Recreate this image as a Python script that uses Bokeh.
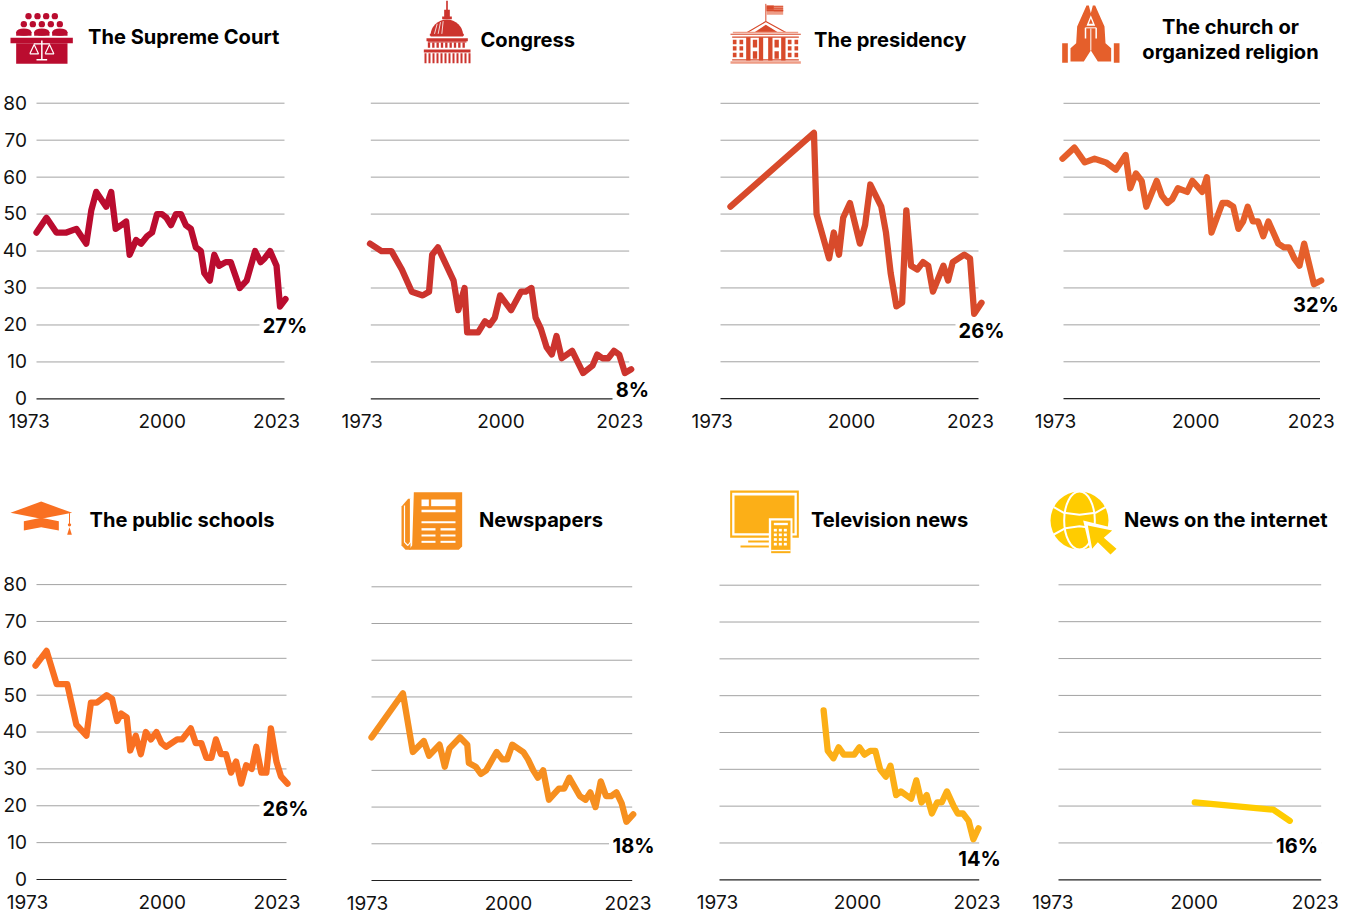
import numpy as np
from bokeh.plotting import figure
from bokeh.models import Range1d, LinearAxis, FixedTicker
from bokeh.embed import file_html
from bokeh.resources import INLINE
from bokeh.core.properties import value

# ---------- data ----------
Y_TICKS = [0, 10, 20, 30, 40, 50, 60, 70, 80]
YEAR_LABELS = ["1973", "2000", "2023"]

court_years = [1973, 1975, 1977, 1979, 1981, 1983, 1984, 1985, 1987, 1988, 1988.9, 1990, 1991, 1991.7, 1993, 1994, 1995.2, 1996.2, 1997.2, 1998.2, 1999.1, 2000, 2001, 2002, 2003, 2004, 2005, 2006, 2006.7, 2007.8, 2008.7, 2009.7, 2011, 2012, 2013.8, 2015.2, 2016.9, 2018, 2018.8, 2019.9, 2021.2, 2021.9, 2023]
court_vals = [45, 49, 45, 45, 46, 42, 51, 56, 52, 56, 46, 47, 48, 39, 43, 42, 44, 45, 50, 50, 49, 47, 50, 50, 47, 46, 41, 40, 34, 32, 39, 36, 37, 37, 30, 32, 40, 37, 38, 40, 36, 25, 27]

congress_years = [1973, 1975.2, 1977.1, 1979.1, 1981, 1983.1, 1984.3, 1984.9, 1986, 1989, 1989.9, 1991.1, 1991.6, 1993.7, 1995, 1995.9, 1996.9, 1997.9, 2000, 2001.9, 2002.8, 2003.9, 2004.7, 2005.7, 2006.8, 2007.8, 2008.7, 2009.7, 2011.7, 2013.8, 2015.6, 2016.5, 2017.5, 2018.6, 2019.7, 2020.7, 2021.8, 2023]
congress_vals = [42, 40, 40, 35, 29, 28, 29, 39, 41, 32, 24, 30, 18, 18, 21, 20, 22, 28, 24, 29, 29, 30, 22, 19, 14, 12, 17, 11, 13, 7, 9, 12, 11, 11, 13, 12, 7, 8]

presidency_years = [1974.9, 1990.9, 1991.4, 1993.8, 1994.7, 1995.7, 1996.5, 1997.8, 1999.7, 2000.7, 2001.7, 2003.8, 2004.7, 2005.6, 2006.7, 2007.8, 2008.6, 2009.5, 2010.7, 2011.8, 2012.8, 2013.7, 2015.7, 2016.6, 2017.5, 2019.7, 2020.8, 2021.6, 2023]
presidency_vals = [52, 72, 50, 38, 45, 39, 49, 53, 42, 47, 58, 52, 45, 34, 25, 26, 51, 36, 35, 37, 36, 29, 36, 32, 37, 39, 38, 23, 26]

church_years = [1973, 1975.3, 1977.3, 1979.2, 1981.4, 1983.3, 1985.2, 1986.1, 1987.2, 1988.3, 1989.2, 1991.2, 1992.2, 1993.3, 1994.2, 1995.3, 1997.1, 1998.1, 2000, 2000.9, 2001.8, 2003.9, 2004.9, 2006, 2007, 2007.9, 2008.8, 2009.8, 2010.8, 2011.8, 2012.8, 2014.7, 2015.8, 2016.8, 2017.8, 2018.8, 2019.7, 2021.6, 2023]
church_vals = [65, 68, 64, 65, 64, 62, 66, 57, 61, 59, 52, 59, 55, 53, 54, 57, 56, 59, 56, 60, 45, 53, 53, 52, 46, 48, 52, 48, 48, 44, 48, 42, 41, 41, 38, 36, 42, 31, 32]

schools_years = [1973, 1975.2, 1977.2, 1979.3, 1981.1, 1983.1, 1984, 1985.2, 1987.1, 1988.2, 1989.2, 1990, 1991.1, 1991.8, 1992.9, 1993.9, 1994.9, 1995.9, 1997, 1998, 1998.9, 2001.1, 2002.1, 2003.8, 2004.8, 2005.9, 2006.9, 2007.9, 2008.8, 2009.8, 2010.8, 2011.8, 2012.8, 2013.8, 2014.8, 2015.9, 2016.8, 2017.8, 2018.8, 2019.7, 2020.8, 2021.7, 2023]
schools_vals = [58, 62, 53, 53, 42, 39, 48, 48, 50, 49, 43, 45, 44, 35, 39, 34, 40, 38, 40, 37, 36, 38, 38, 41, 37, 37, 33, 33, 38, 34, 34, 29, 32, 26, 31, 30, 36, 29, 29, 41, 32, 28, 26]

papers_years = [1973, 1979, 1980.9, 1983, 1984, 1986, 1987, 1987.9, 1989.9, 1991.3, 1991.6, 1992.9, 1993.9, 1994.9, 1996.9, 1998, 1998.9, 1999.9, 2002, 2002.9, 2003.9, 2004.8, 2005.8, 2006.9, 2008.8, 2009.8, 2010.8, 2012.8, 2013.9, 2014.8, 2015.8, 2016.8, 2017.8, 2018.8, 2019.8, 2020.8, 2021.7, 2023]
papers_vals = [39, 51, 35, 38, 34, 37, 31, 36, 39, 37, 32, 31, 29, 30, 35, 33, 33, 37, 35, 33, 30, 28, 30, 22, 25, 25, 28, 23, 22, 24, 20, 27, 23, 23, 24, 21, 16, 18]

tv_years = [1993.1, 1993.9, 1995, 1996, 1997, 1999, 2000, 2001, 2002.1, 2003.1, 2004, 2005.1, 2006, 2007.1, 2008, 2010, 2011, 2012, 2013, 2014, 2015, 2015.9, 2016.9, 2018.2, 2019, 2020, 2021.1, 2022, 2023]
tv_vals = [46, 35, 33, 36, 34, 34, 36, 34, 35, 35, 30, 28, 31, 23, 24, 22, 27, 21, 23, 18, 21, 21, 24, 20, 18, 18, 16, 11, 14]

internet_years = [2000, 2019, 2023]
internet_vals = [21, 19, 16]

# ---------- layout (page pixels) ----------
PANELS = [
    dict(years=court_years, vals=court_vals, color="#BA0C2F", anchor=(1973, 36, 2023, 285), grid=(36, 284), y=(398.4, 102.7), ticks_px=(28.7, 161.7, 276), ylab=True, lab=(284.5, 326, 21.5)),
    dict(years=congress_years, vals=congress_vals, color="#CC342E", anchor=(1973, 369.5, 2023, 630.7), grid=(370.3, 628.7), y=(398.4, 102.7), ticks_px=(361.7, 500.5, 619.2), ylab=False, lab=(632, 390, 16)),
    dict(years=presidency_years, vals=presidency_vals, color="#D84A2B", anchor=(1973, 720, 2023, 981), grid=(720, 978), y=(398.2, 102.8), ticks_px=(711.7, 851, 970), ylab=False, lab=(981, 331, 22)),
    dict(years=church_years, vals=church_vals, color="#E55F2B", anchor=(1973, 1062, 2023, 1320.7), grid=(1063, 1319.5), y=(398.2, 102.8), ticks_px=(1055, 1195.3, 1310.8), ylab=False, lab=(1315.5, 305, 22)),
    dict(years=schools_years, vals=schools_vals, color="#F97022", anchor=(1973, 35, 2023, 287), grid=(36, 286), y=(879.0, 584.1), ticks_px=(27, 161.7, 276.5), ylab=True, lab=(285, 809, 22)),
    dict(years=papers_years, vals=papers_vals, color="#F68F1F", anchor=(1973, 371, 2023, 632.7), grid=(371, 631.7), y=(880.0, 586.3), ticks_px=(367, 508, 627.5), ylab=False, lab=(633, 846, 20.5)),
    dict(years=tv_years, vals=tv_vals, color="#FCAF17", anchor=(1973, 719, 2023, 978), grid=(719, 978.7), y=(879.3, 584.7), ticks_px=(717, 857, 976.5), ylab=False, lab=(979, 859, 20.5)),
    dict(years=internet_years, vals=internet_vals, color="#FFCC00", anchor=(2000, 1194.3, 2023, 1289.3), grid=(1058, 1320.7), y=(879.3, 584.3), ticks_px=(1052.3, 1193.8, 1314.8), ylab=False, lab=(1296.5, 846, 20.5)),
]
TITLES = [
    ("The Supreme Court", 87.5, 36.3, "left"), ("Congress", 480, 39.3, "left"), ("The presidency", 813.5, 39.3, "left"),
    ("The church or", 1230, 26.3, "center"), ("organized religion", 1230, 51.3, "center"),
    ("The public schools", 89, 519.3, "left"), ("Newspapers", 478.5, 519.3, "left"),
    ("Television news", 810.5, 519.3, "left"), ("News on the internet", 1123.5, 519.3, "left"),
]
FONT = "Inter"
W, H = 1350, 914

p = figure(width=W, height=H, x_range=Range1d(0, W), y_range=Range1d(H, 0),
           x_axis_location=None, y_axis_location=None, toolbar_location=None,
           output_backend="svg", min_border=0, outline_line_color=None)
p.grid.visible = False


def rect(x0, x1, y0, y1, c):
    p.quad(left=x0, right=x1, top=y0, bottom=y1, fill_color=c, line_color=None)


# ---------- panels ----------
for i, pn in enumerate(PANELS):
    ya, pa, yb, pb = pn["anchor"]
    sx = (pb - pa) / (yb - ya)
    y0, y80 = pn["y"]
    u = (y0 - y80) / 80.0
    to_year = lambda px: ya + (px - pa) / sx
    xn, yn = f"x{i}", f"y{i}"
    p.extra_x_ranges[xn] = Range1d(to_year(0), to_year(W))
    p.extra_y_ranges[yn] = Range1d((y0 - H) / u, y0 / u)
    gx0, gx1 = to_year(pn["grid"][0]), to_year(pn["grid"][1])

    grid_vals = [t for t in Y_TICKS if t != 0]
    p.segment(x0=[gx0] * len(grid_vals), x1=[gx1] * len(grid_vals), y0=grid_vals, y1=grid_vals,
              line_color="#a3a3a3", line_width=1, x_range_name=xn, y_range_name=yn)
    p.segment(x0=[gx0], x1=[gx1], y0=[0], y1=[0], line_color="#222222", line_width=1.2,
              x_range_name=xn, y_range_name=yn)

    lx, ly, hw = pn["lab"]
    rect(lx - hw - 4, lx + hw + 4, ly - 10, ly + 10, "white")

    p.line(pn["years"], pn["vals"], line_color=pn["color"], line_width=6.3, line_join="round",
           line_cap="round", x_range_name=xn, y_range_name=yn)

    p.text(x=[lx], y=[ly - 0.5], text=[f"{pn['vals'][-1]}%"], text_font=value(FONT), text_font_style="bold",
           text_font_size="20px", text_align="center", text_baseline="middle", text_color="#000000")

    tick_pos = [round(to_year(t), 4) for t in pn["ticks_px"]]
    xax = LinearAxis(x_range_name=xn, y_range_name=yn, ticker=FixedTicker(ticks=tick_pos),
                     major_label_overrides=dict(zip(tick_pos, YEAR_LABELS)), fixed_location=0,
                     axis_line_color=None, major_tick_line_color=None, minor_tick_line_color=None,
                     major_tick_out=0, major_tick_in=0, minor_tick_out=0, minor_tick_in=0,
                     major_label_standoff=15, major_label_text_font=FONT,
                     major_label_text_font_size="19px", major_label_text_color="#111111")
    p.add_layout(xax, "below")
    if pn["ylab"]:
        yln = f"ylab{i}"
        p.extra_y_ranges[yln] = Range1d((y0 - 0.6 - H) / u, (y0 - 0.6) / u)
        yax = LinearAxis(x_range_name=xn, y_range_name=yln, ticker=FixedTicker(ticks=Y_TICKS),
                         fixed_location=round(to_year(26.5), 4), axis_line_color=None,
                         major_tick_line_color=None, minor_tick_line_color=None,
                         major_tick_out=0, major_tick_in=0, minor_tick_out=0, minor_tick_in=0,
                         major_label_standoff=0, major_label_text_font=FONT,
                         major_label_text_font_size="19px", major_label_text_color="#111111")
        p.add_layout(yax, "left")

for txt, x, y, al in TITLES:
    p.text(x=[x], y=[y], text=[txt], text_font=value(FONT), text_font_style="bold", text_font_size="20.1px",
           text_align=al, text_baseline="middle", text_color="#000000")


# ---------- icons (drawn in page pixels, from 3x crop coordinates) ----------
def Z(ox, oy, pts):
    return [ox + a / 3 for a, _ in pts], [oy + b / 3 for _, b in pts]


def poly(ox, oy, pts, c):
    xs, ys = Z(ox, oy, pts)
    p.patch(xs, ys, fill_color=c, line_color=None)


def box(ox, oy, x0, x1, y0, y1, c):
    rect(ox + x0 / 3, ox + x1 / 3, oy + y0 / 3, oy + y1 / 3, c)


def lin(ox, oy, pts, c, w=1):
    xs, ys = Z(ox, oy, pts)
    p.line(xs, ys, line_color=c, line_width=w)


def dots(ox, oy, pts, r, c):
    xs, ys = Z(ox, oy, pts)
    p.circle(xs, ys, radius=r / 3, fill_color=c, line_color=None)


# Supreme Court
C = "#BA0C2F"
dots(0, 0, [(84, 47), (111, 47), (137, 47), (163, 47), (70, 71), (97, 71), (124, 71), (151, 71), (178, 71)], 9.5, C)
for a in (47, 101, 155):
    box(0, 0, a, a + 46, 95, 106, C)
    p.ellipse(x=[(a + 23) / 3], y=[95 / 3], width=[46 / 3], height=[22 / 3], fill_color=C, line_color=None)
box(0, 0, 30, 217, 112, 128, C)
box(0, 0, 47, 201, 128, 190, C)
lin(0, 0, [(124, 120), (124, 178)], "white", 1.5)
lin(0, 0, [(108, 178), (140, 178)], "white", 1.5)
lin(0, 0, [(100, 130), (148, 130)], "white", 1.2)
lin(0, 0, [(88, 160), (101, 132), (114, 160), (88, 160)], "white", 1.2)
lin(0, 0, [(134, 160), (147, 132), (160, 160), (134, 160)], "white", 1.2)

# Congress
C = "#CC342E"
ox, oy = 340, 0
box(ox, oy, 317, 322, 0, 30, C)
box(ox, oy, 311, 328, 28, 50, C)
box(ox, oy, 305, 334, 48, 56, C)
p.ellipse(x=[ox + 319 / 3], y=[oy + 105 / 3], width=[98 / 3], height=[96 / 3], fill_color=C, line_color=None)
rect(ox + 260 / 3, ox + 380 / 3, 36, 60, "white")
box(ox, oy, 268, 370, 100, 106, C)
box(ox, oy, 258, 382, 113, 122, C)
box(ox, oy, 262, 378, 122, 126, C)
for a in range(262, 378, 13):
    box(ox, oy, a, a + 7, 126, 142, C)
box(ox, oy, 250, 390, 147, 156, C)
for a in range(252, 388, 12):
    box(ox, oy, a, a + 6, 158, 188, C)
lin(ox, oy, [(290, 70), (282, 100)], "white", 0.8)
lin(ox, oy, [(300, 65), (293, 100)], "white", 0.8)
lin(ox, oy, [(308, 62), (304, 100)], "white", 0.8)

# White house
C = "#D84A2B"
ox, oy = 725, 0
LC = "#EE9C86"
lin(ox, oy, [(121, 10), (121, 62)], C, 1)
box(ox, oy, 123, 173, 15, 43, LC)
box(ox, oy, 123, 145, 15, 28, C)
for b in (17, 23, 29):
    box(ox, oy, 145, 173, b, b + 3, C)
box(ox, oy, 123, 173, 28, 32, C)
lin(ox, oy, [(65, 96), (121, 63), (181, 96)], C, 1.2)
poly(ox, oy, [(87, 95), (121, 73), (157, 95)], C)
box(ox, oy, 22, 218, 94, 98, LC)
box(ox, oy, 15, 226, 100, 103, C)
box(ox, oy, 20, 220, 108, 112, C)
for a in (62, 100, 128, 167):
    box(ox, oy, a, a + 13, 110, 180, C)
for a in (22, 42, 187, 207):
    for b in (118, 137, 157):
        box(ox, oy, a, a + 11, b, b + 13, C)
for a in (82, 147):
    for b in (118, 152):
        box(ox, oy, a, a + 13, b, b + 23, C)
box(ox, oy, 20, 220, 176, 180, C)
box(ox, oy, 15, 226, 182, 190, LC)

# Praying hands
C = "#E55F2B"
ox, oy = 1055, 0
box(ox, oy, 20, 37, 128, 187, C)
box(ox, oy, 175, 192, 128, 187, C)
poly(ox, oy, [(93, 15), (100, 15), (106, 38), (112, 15), (119, 15), (147, 78), (150, 128), (167, 143), (167, 183), (127, 183), (106, 150), (85, 183), (45, 183), (45, 143), (62, 128), (65, 78)], C)
poly(ox, oy, [(106, 44), (93, 76), (119, 76)], "white")
poly(ox, oy, [(106, 54), (100, 70), (112, 70)], C)
lin(ox, oy, [(90, 82), (90, 114)], "white", 1.5)
lin(ox, oy, [(122, 82), (122, 114)], "white", 1.5)
lin(ox, oy, [(90, 82), (122, 82)], "white", 1)
lin(ox, oy, [(106, 84), (106, 150)], "white", 1)

# Mortarboard
C = "#F97022"
ox, oy = 0, 480
poly(ox, oy, [(30, 97), (122, 63), (215, 97), (122, 115)], C)
poly(ox, oy, [(70, 122), (122, 112), (175, 122), (175, 150), (122, 140), (70, 150)], C)
lin(ox, oy, [(207, 98), (207, 132)], C, 1)
dots(ox, oy, [(207, 133)], 5, C)
poly(ox, oy, [(207, 140), (200, 163), (214, 163)], C)

# Newspaper
C = "#F68F1F"
ox, oy = 340, 480
poly(ox, oy, [(183, 78), (203, 55), (210, 55), (210, 208), (195, 208), (183, 195)], C)
poly(ox, oy, [(220, 35), (365, 35), (365, 198), (355, 208), (205, 208), (215, 195)], C)
lin(ox, oy, [(192, 75), (192, 185), (202, 195), (210, 185), (210, 55)], "white", 1.2)
for a, b, c_, d in [(243, 265, 57, 77), (272, 345, 57, 77), (243, 345, 88, 95), (243, 345, 122, 128),
                    (243, 285, 143, 150), (300, 345, 143, 150), (243, 285, 162, 168), (300, 345, 162, 168),
                    (243, 285, 181, 187), (300, 345, 181, 187)]:
    box(ox, oy, a, b, c_, d, "white")

# Television
C = "#FCAF17"
ox, oy = 680, 480
box(ox, oy, 149, 355, 30, 172, C)
box(ox, oy, 155, 349, 37, 165, "white")
box(ox, oy, 162, 342, 45, 158, C)
box(ox, oy, 203, 270, 180, 186, C)
box(ox, oy, 180, 270, 195, 201, C)
box(ox, oy, 265, 336, 113, 224, "white")
box(ox, oy, 272, 330, 120, 218, C)
box(ox, oy, 280, 322, 127, 134, "white")
for a in (280, 295, 310):
    for b in (145, 159, 173, 187):
        box(ox, oy, a, a + 9, b, b + 8, "white")
box(ox, oy, 272, 330, 208, 212, "white")

# Globe
C = "#FFCC00"
ox, oy = 1010, 480
cx, cy = ox + 207 / 3, oy + 120 / 3
p.circle([cx], [cy], radius=87 / 3, fill_color=C, line_color=None)
p.ellipse([cx], [cy], width=[92 / 3], height=[174 / 3], fill_color=None, line_color="white", line_width=2)
lin(ox, oy, [(130, 80), (160, 97), (207, 103), (255, 97), (285, 80)], "white", 2)
lin(ox, oy, [(130, 162), (165, 143), (207, 137), (250, 143), (285, 162)], "white", 2)
poly(ox, oy, [(218, 120), (325, 146), (295, 172), (330, 207), (300, 235), (265, 198), (242, 222)], "white")
poly(ox, oy, [(232, 135), (305, 150), (280, 172), (318, 205), (300, 222), (262, 185), (245, 205)], C)

open("out.html", "w").write(file_html(p, INLINE))
